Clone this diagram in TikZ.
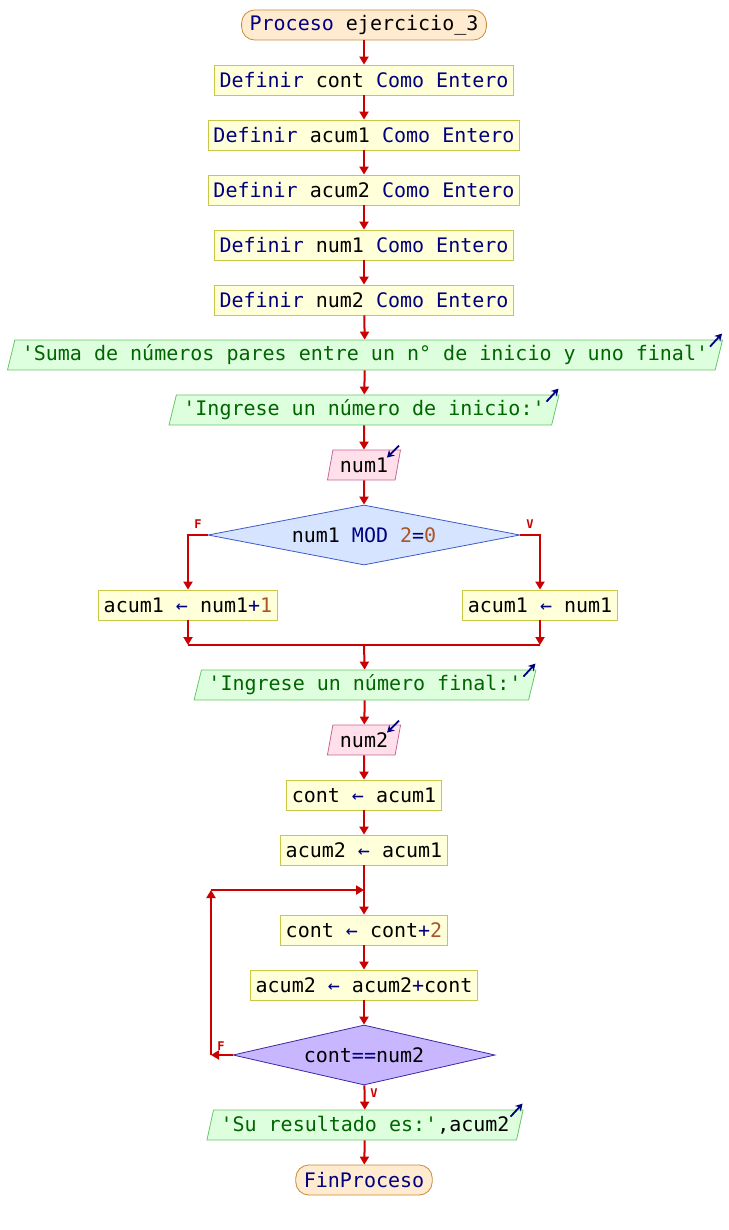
\documentclass[tikz,border=0pt]{standalone}
\usepackage{fontspec}
\setmonofont{DejaVu Sans Mono}
\usetikzlibrary{shapes.geometric,arrows.meta}
\definecolor{miazul}{RGB}{0,0,128}
\definecolor{miverde}{RGB}{0,100,0}
\definecolor{micafe}{RGB}{170,85,40}
\definecolor{mirojo}{RGB}{204,0,0}
\definecolor{amarillo}{RGB}{255,255,218}
\definecolor{bordeamarillo}{RGB}{200,200,70}
\definecolor{verdeclaro}{RGB}{222,255,222}
\definecolor{bordeverde}{RGB}{100,200,100}
\definecolor{rosa}{RGB}{255,224,234}
\definecolor{borderosa}{RGB}{200,100,150}
\definecolor{celeste}{RGB}{214,228,255}
\definecolor{bordeceleste}{RGB}{60,90,200}
\definecolor{lila}{RGB}{200,182,255}
\definecolor{bordelila}{RGB}{60,40,160}
\definecolor{durazno}{RGB}{255,235,208}
\definecolor{bordedurazno}{RGB}{200,140,60}
\newcommand{\pc}[1]{\textcolor{miazul}{#1}}
\newcommand{\ct}[1]{\textcolor{micafe}{#1}}
\newcommand{\cd}[1]{\textcolor{miverde}{#1}}

\begin{document}
\begin{tikzpicture}[x=1pt,y=-1pt,
	base/.style={font=\ttfamily\fontsize{20}{24}\selectfont,minimum height=30pt,inner ysep=0pt,inner xsep=5pt,line width=0.8pt},
	proceso/.style={base,draw=bordeamarillo,fill=amarillo},
	terminal/.style={base,draw=bordedurazno,fill=durazno,rounded corners=13pt,inner xsep=8pt},
	salida/.style={base,draw=bordeverde,fill=verdeclaro,trapezium,trapezium left angle=70,trapezium right angle=110,trapezium stretches body,inner xsep=7pt},
	entrada/.style={salida,draw=borderosa,fill=rosa},
	decision/.style={base,diamond,inner sep=0pt,minimum height=60pt},
	flecha/.style={draw=mirojo,line width=2pt,-{Triangle[width=9pt,length=8pt]}},
	linea/.style={draw=mirojo,line width=2pt},
	marca/.style={draw=miazul,line width=1.8pt,-{Stealth[width=8pt,length=7pt]}},
	etiqueta/.style={text=mirojo,font=\ttfamily\bfseries\fontsize{12}{12}\selectfont}]
	\useasboundingbox (0,0) rectangle (728,1230);
	% Inicio %
	\node[terminal] (inicio) at (364,25) {\pc{Proceso} ejercicio\_3};
	% Definiciones %
	\node[proceso] (def1) at (364,80) {\pc{Definir} cont \pc{Como Entero}};
	\node[proceso] (def2) at (364,135) {\pc{Definir} acum1 \pc{Como Entero}};
	\node[proceso] (def3) at (364,190) {\pc{Definir} acum2 \pc{Como Entero}};
	\node[proceso] (def4) at (364,245) {\pc{Definir} num1 \pc{Como Entero}};
	\node[proceso] (def5) at (364,300) {\pc{Definir} num2 \pc{Como Entero}};
	% Lectura de num1 %
	\node[salida] (esc1) at (365,355) {\cd{'Suma de números pares entre un n° de inicio y uno final'}};
	\node[salida] (esc2) at (364,410) {\cd{'Ingrese un número de inicio:'}};
	\node[entrada] (leer1) at (364,465) {num1};
	% Si num1 es par %
	\node[decision,draw=bordeceleste,fill=celeste,aspect=5.2,minimum width=312pt] (dec1) at (364,535) {num1 \pc{MOD} \ct{2}\pc{=}\ct{0}};
	\node[proceso] (asigF) at (188,605) {acum1 \pc{←} num1\pc{+}\ct{1}};
	\node[proceso] (asigV) at (540,605) {acum1 \pc{←} num1};
	\coordinate (union) at (364,645);
	% Lectura de num2 %
	\node[salida] (esc3) at (365,685) {\cd{'Ingrese un número final:'}};
	\node[entrada] (leer2) at (364,740) {num2};
	\node[proceso] (asig1) at (364,795) {cont \pc{←} acum1};
	\node[proceso] (asig2) at (364,850) {acum2 \pc{←} acum1};
	% Repetir %
	\coordinate (bucle) at (364,890);
	\node[proceso] (asig3) at (364,930) {cont \pc{←} cont\pc{+}\ct{2}};
	\node[proceso] (asig4) at (364,985) {acum2 \pc{←} acum2\pc{+}cont};
	\node[decision,draw=bordelila,fill=lila,aspect=4.37,minimum width=262pt] (dec2) at (364,1055) {cont\pc{==}num2};
	\coordinate (esq) at (211,1055);
	% Fin %
	\node[salida] (esc4) at (365,1125) {\cd{'Su resultado es:'},acum2};
	\node[terminal] (fin) at (364,1180) {\pc{FinProceso}};
	% Conectores %
	\draw[flecha] (inicio) -- (def1);
	\draw[flecha] (def1) -- (def2);
	\draw[flecha] (def2) -- (def3);
	\draw[flecha] (def3) -- (def4);
	\draw[flecha] (def4) -- (def5);
	\draw[flecha] (def5) -- (esc1);
	\draw[flecha] (esc1) -- (esc2);
	\draw[flecha] (esc2) -- (leer1);
	\draw[flecha] (leer1) -- (dec1);
	\draw[flecha] (dec1.west) -| (asigF);
	\draw[flecha] (dec1.east) -| (asigV);
	\node[etiqueta] (f1) at (198,524) {F};
	\node[etiqueta] (v1) at (530,524) {V};
	\draw[flecha] (asigF) -- (asigF |- union);
	\draw[flecha] (asigV) -- (asigV |- union);
	\draw[linea] (asigF |- union) -- (asigV |- union);
	\draw[flecha] (union) -- (esc3);
	\draw[flecha] (esc3) -- (leer2);
	\draw[flecha] (leer2) -- (asig1);
	\draw[flecha] (asig1) -- (asig2);
	\draw[flecha] (asig2) -- (asig3);
	\draw[flecha] (asig3) -- (asig4);
	\draw[flecha] (asig4) -- (dec2);
	\draw[flecha] (dec2.west) -- (esq);
	\draw[flecha] (esq) -- (esq |- bucle);
	\draw[flecha] (esq |- bucle) -- (bucle);
	\node[etiqueta] (f2) at (221,1046) {F};
	\draw[flecha] (dec2) -- (esc4);
	\node[etiqueta] (v2) at (374,1093) {V};
	\draw[flecha] (esc4) -- (fin);
	% Marcas de entrada y salida %
	\draw[marca] ([shift={(-13,7)}]esc1.top right corner) -- ++(12,-13);
	\draw[marca] ([shift={(-13,7)}]esc2.top right corner) -- ++(12,-13);
	\draw[marca] ([shift={(-13,7)}]esc3.top right corner) -- ++(12,-13);
	\draw[marca] ([shift={(-13,7)}]esc4.top right corner) -- ++(12,-13);
	\draw[marca] ([shift={(-2,-4)}]leer1.top right corner) -- ++(-12,12);
	\draw[marca] ([shift={(-2,-4)}]leer2.top right corner) -- ++(-12,12);
\end{tikzpicture}
\end{document}
